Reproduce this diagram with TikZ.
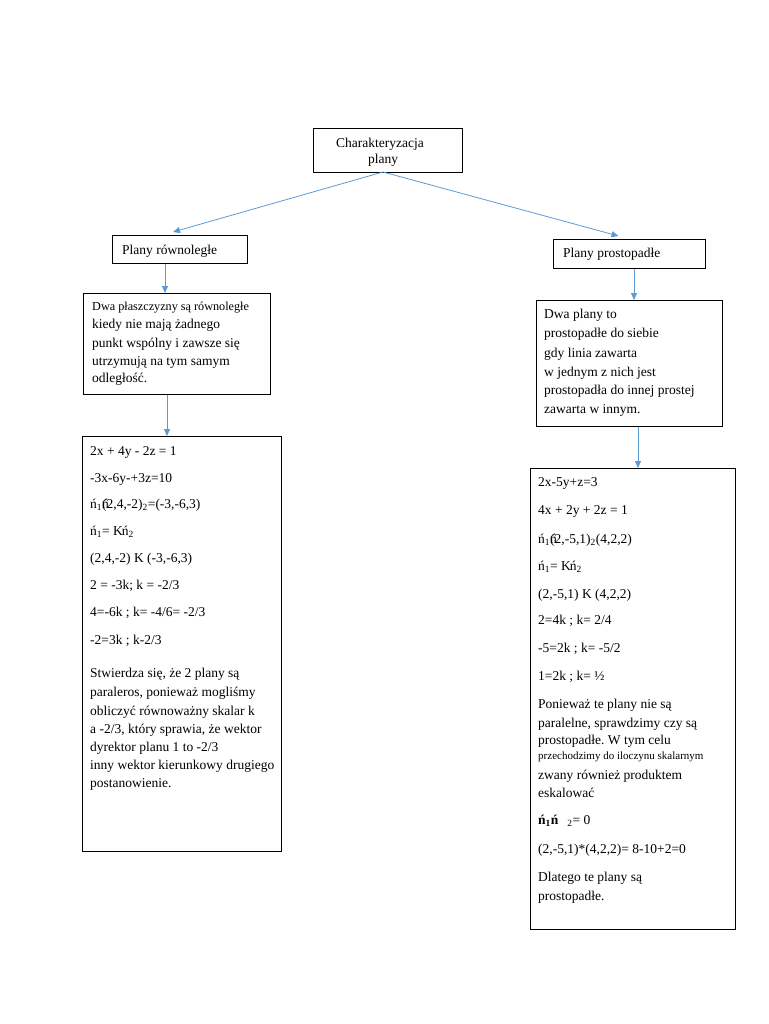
\documentclass[tikz,border=0pt]{standalone}
\usepackage{fontspec}
\setmainfont{Liberation Serif}
\usetikzlibrary{arrows.meta,calc}
\definecolor{arrowblue}{RGB}{91,155,213}
\frenchspacing
\newcommand{\fsMain}{\fontsize{13.5}{16}\selectfont}
\newcommand{\fsSmall}{\fontsize{12.2}{14}\selectfont}
\newcommand{\fsTiny}{\fontsize{11}{13}\selectfont}
\begin{document}
\begin{tikzpicture}[x=1pt,y=-1pt,
  box/.style={draw=black, line width=1pt, inner sep=0pt, anchor=north west},
  txt/.style={anchor=base west, inner sep=0pt, font=\fsMain},
  arr/.style={draw=arrowblue, line width=0.8pt, -{Triangle[length=7pt,width=6pt]}}]
\useasboundingbox[fill=white] (0,0) rectangle (768,1024);

% boxes
\node[box, minimum width=149pt, minimum height=44pt] (top) at (313,128) {};
\node[box, minimum width=135pt, minimum height=28pt] (rl) at (112,235) {};
\node[box, minimum width=152pt, minimum height=29pt] (rp) at (553,239) {};
\node[box, minimum width=187pt, minimum height=101pt] (lp) at (83,293) {};
\node[box, minimum width=186pt, minimum height=126pt] (rpar) at (536,300) {};
\node[box, minimum width=199pt, minimum height=415pt] (lf) at (82,436) {};
\node[box, minimum width=205pt, minimum height=461pt] (rf) at (530,468) {};

% top text
\node[txt] (t1) at (336,147.5) {Charakteryzacja};
\node[txt] (t2) at (368,164) {plany};
\node[txt] (rlt) at (122,254.5) {Plany równoległe};
\node[txt] (rpt) at (563,257.5) {Plany prostopadłe};

% left paragraph
\node[txt, font=\fsSmall] (lp1) at (92,310) {Dwa płaszczyzny są równoległe};
\node[txt] (lp2) at (92,328.5) {kiedy nie mają żadnego};
\node[txt] (lp3) at (92,347) {punkt wspólny i zawsze się};
\node[txt] (lp4) at (92,365.5) {utrzymują na tym samym};
\node[txt] (lp5) at (92,382.5) {odległość.};

% right paragraph
\node[txt] (rp1) at (544,318) {Dwa plany to};
\node[txt] (rp2) at (544,337) {prostopadłe do siebie};
\node[txt] (rp3) at (544,357) {gdy linia zawarta};
\node[txt] (rp4) at (544,376) {w jednym z nich jest};
\node[txt] (rp5) at (544,394.5) {prostopadła do innej prostej};
\node[txt] (rp6) at (544,413.5) {zawarta w innym.};

% left formulas
\node[txt] (lf1) at (90,455) {2x + 4y - 2z = 1};
\node[txt] (lf2) at (90,482) {-3x-6y-+3z=10};
\node[txt] (lf3) at (90,508.5) {ń\textsubscript{1}\rlap{ń}(2,4,-2)\textsubscript{2}=(-3,-6,3)};
\node[txt] (lf4) at (90,535.5) {ń\textsubscript{1}= K\kern-1ptń\textsubscript{2}};
\node[txt] (lf5) at (90,562) {(2,4,-2) K (-3,-6,3)};
\node[txt] (lf6) at (90,589) {2 = -3k; k = -2/3};
\node[txt] (lf7) at (90,616) {4=-6k ; k= -4/6= -2/3};
\node[txt] (lf8) at (90,644) {-2=3k ; k-2/3};
\node[txt] (lf9) at (90,677.5) {Stwierdza się, że 2 plany są};
\node[txt] (lf10) at (90,696.5) {paraleros, ponieważ mogliśmy};
\node[txt] (lf11) at (90,715) {obliczyć równoważny skalar k};
\node[txt] (lf12) at (90,733) {a -2/3, który sprawia, że wektor};
\node[txt] (lf13) at (90,751.5) {dyrektor planu 1 to -2/3};
\node[txt] (lf14) at (90,769) {inny wektor kierunkowy drugiego};
\node[txt] (lf15) at (90,787) {postanowienie.};

% right formulas
\node[txt] (rf1) at (538,486) {2x-5y+z=3};
\node[txt] (rf2) at (538,514.5) {4x + 2y + 2z = 1};
\node[txt] (rf3) at (538,543) {ń\textsubscript{1}\rlap{ń}(2,-5,1)\textsubscript{2}(4,2,2)};
\node[txt] (rf4) at (538,570) {ń\textsubscript{1}= K\kern-1ptń\textsubscript{2}};
\node[txt] (rf5) at (538,598) {(2,-5,1) K (4,2,2)};
\node[txt] (rf6) at (538,624.5) {2=4k ; k= 2/4};
\node[txt] (rf7) at (538,652) {-5=2k ; k= -5/2};
\node[txt] (rf8) at (538,680) {1=2k ; k= ½};
\node[txt] (rf9) at (538,708) {Ponieważ te plany nie są};
\node[txt] (rf10) at (538,727) {paralelne, sprawdzimy czy są};
\node[txt] (rf11) at (538,744) {prostopadłe. W tym celu};
\node[txt, font=\fsTiny] (rf12) at (538,759.5) {przechodzimy do iloczynu skalarnym};
\node[txt] (rf13) at (538,779) {zwany również produktem};
\node[txt] (rf14) at (538,797) {eskalować};
\node[txt] (rf15) at (538,824.5) {\textbf{ń\textsubscript{1}ń}\hspace{9pt}\textsubscript{2}= 0};
\node[txt] (rf16) at (538,853.5) {(2,-5,1)*(4,2,2)= 8-10+2=0};
\node[txt] (rf17) at (538,881.5) {Dlatego te plany są};
\node[txt] (rf18) at (538,900) {prostopadłe.};

% connectors
\coordinate (ts) at (383,172);
\draw[arr] (ts) -- ($(rl.north)+(-7,-3)$);
\draw[arr] (ts) -- ($(rp.north)+(-11,-3)$);
\coordinate (cx1) at (165,0);
\coordinate (cx2) at (167,0);
\coordinate (cx3) at (634,0);
\coordinate (cx4) at (638,0);
\draw[arr] (rl.south -| cx1) -- (lp.north -| cx1);
\draw[arr] (lp.south -| cx2) -- (lf.north -| cx2);
\draw[arr] (rp.south -| cx3) -- (rpar.north -| cx3);
\draw[arr] (rpar.south -| cx4) -- (rf.north -| cx4);
\end{tikzpicture}
\end{document}
